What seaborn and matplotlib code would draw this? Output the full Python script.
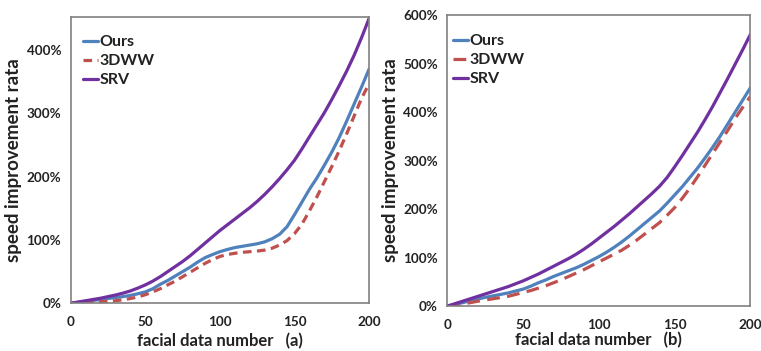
import numpy as np
import pandas as pd
import matplotlib
matplotlib.use("Agg")
import matplotlib.pyplot as plt
import seaborn as sns
from matplotlib.ticker import FuncFormatter

# ---- data ----
x_vals = [0, 5, 10, 15, 20, 25, 30, 35, 40, 45, 50, 55, 60, 65, 70, 75, 80,
          85, 90, 95, 100, 105, 110, 115, 120, 125, 130, 135, 140, 145, 150,
          155, 160, 165, 170, 175, 180, 185, 190, 195, 200]

# panel (a)
a_srv  = [0, 2, 4, 6, 8, 10.5, 13, 16, 19.5, 24, 29, 35, 42, 50, 58, 66, 75,
          85, 95, 105, 115, 124, 133, 142, 151, 161, 172, 184, 197, 211, 226,
          244, 263, 282, 301, 322, 344, 367, 392, 420, 450]
a_ours = [0, 1.5, 3, 4.5, 6, 7.5, 9, 10.5, 12.5, 15, 18, 23, 30, 36, 43, 50, 57,
          65, 72, 77, 81.5, 85, 88, 90, 92, 94, 97, 102, 109, 121, 140,
          160, 180, 198, 218, 239, 262, 288, 315, 342, 370]
a_3dww = [0, 0.5, 1, 1.8, 2.5, 3, 4, 5.5, 7.5, 10, 13.5, 18, 23, 29, 35, 42, 49,
          56, 63, 69, 74, 77, 79, 80.5, 81.5, 82.5, 84, 87, 92, 99, 110,
          125, 146, 168, 192, 216, 241, 268, 296, 324, 347]

# panel (b)
b_srv  = [0, 5, 10, 15, 20, 25, 30, 35, 40, 46, 52, 59, 66, 74, 82, 90, 98,
          107, 117, 128, 140, 152, 164, 177, 190, 204, 218, 232, 247, 265, 287,
          310, 334, 358, 384, 411, 440, 469, 499, 529, 560]
b_ours = [0, 3.5, 7, 11, 14.5, 18, 21, 24, 27, 31, 35, 41, 48, 54, 61, 67, 73,
          79, 86, 94, 102, 111, 121, 132, 144, 157, 170, 183, 196, 212, 229,
          246, 265, 284, 305, 327, 350, 375, 400, 425, 450]
b_3dww = [0, 2, 4.5, 7, 10, 12.5, 15, 17.5, 20, 24, 28, 32, 37, 42, 48, 54, 61,
          68, 75, 83, 91, 99, 107, 115, 125, 136, 148, 160, 172, 187, 203,
          222, 243, 266, 290, 314, 338, 362, 387, 410, 432]

series_names = ["Ours", "3DWW", "SRV"]
a_yticks = [0, 100, 200, 300, 400]
b_yticks = [0, 100, 200, 300, 400, 500, 600]
x_ticks = [0, 50, 100, 150, 200]
xlabels = ["facial data number   (a)", "facial data number   (b)"]
ylabel = "speed improvement rata"

colors = {"Ours": "#4f81bd", "3DWW": "#c0504d", "SRV": "#7030a0"}

sns.set_theme(style="white")
plt.rcParams["font.family"] = ["Lato", "DejaVu Sans"]
plt.rcParams["font.weight"] = "bold"


def long_df(ours, dww, srv):
    rows = []
    for name, vals in zip(series_names, [ours, dww, srv]):
        for xv, yv in zip(x_vals, vals):
            rows.append({"x": xv, "y": yv, "method": name})
    return pd.DataFrame(rows)


fig = plt.figure(figsize=(7.61, 3.51), dpi=100)
ax1 = fig.add_axes([0.093, 0.136, 0.392, 0.815])
ax2 = fig.add_axes([0.588, 0.128, 0.398, 0.829])

panels = [
    (ax1, long_df(a_ours, a_3dww, a_srv), a_yticks, 452, xlabels[0],
     (2.7, 1.7), (0.041, 0.937), 3.5),
    (ax2, long_df(b_ours, b_3dww, b_srv), b_yticks, 600, xlabels[1],
     (4.0, 2.3), (0.017, 0.935), 1.0),
]

pct = FuncFormatter(lambda v, p: f"{int(round(v))}%")

for ax, df, yt, ytop, xl, dash, legpos, xpad in panels:
    dashes = {"Ours": "", "3DWW": dash, "SRV": ""}
    sns.lineplot(data=df, x="x", y="y", hue="method", style="method",
                 hue_order=series_names, style_order=series_names,
                 palette=colors, dashes=dashes, linewidth=2.3, ax=ax,
                 legend=True)
    ax.set_xlim(0, 200)
    ax.set_ylim(0, ytop)
    ax.set_xticks(x_ticks)
    ax.set_yticks(yt)
    ax.yaxis.set_major_formatter(pct)
    ax.tick_params(axis="x", length=0, labelsize=9.7, pad=9, colors="#222222")
    ax.tick_params(axis="y", length=0, labelsize=9.7, pad=7, colors="#222222")
    for lab in ax.get_xticklabels() + ax.get_yticklabels():
        lab.set_fontweight("bold")
    for sp in ax.spines.values():
        sp.set_color("#808080")
        sp.set_linewidth(1.2)
    ax.set_xlabel(xl, fontsize=12, fontweight="bold", labelpad=xpad,
                  color="#222222")
    ax.set_ylabel(ylabel, fontsize=13.5, fontweight="bold", labelpad=3,
                  color="#222222")
    leg = ax.legend(loc="upper left", frameon=False, fontsize=11.5,
                    handlelength=0.95, handletextpad=0.1, labelspacing=0.3,
                    borderaxespad=0, borderpad=0, bbox_to_anchor=legpos)
    for t in leg.get_texts():
        t.set_fontweight("bold")
        t.set_color("#222222")

fig.savefig("out.png", dpi=100)
